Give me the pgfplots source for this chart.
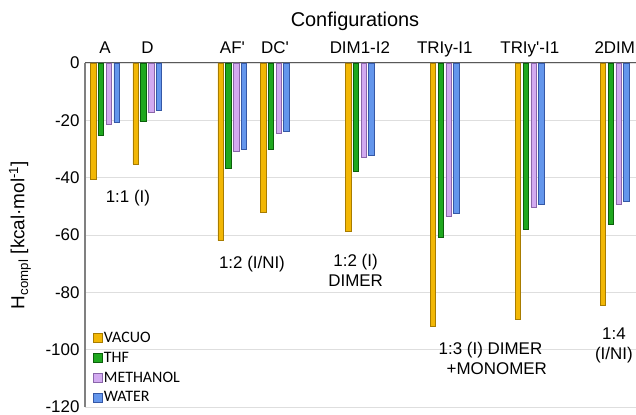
\documentclass[border=0pt]{standalone}
\usepackage{pgfplots}
\pgfplotsset{compat=1.18}
\usepackage{fontspec}
\setmainfont{Liberation Sans}
\newfontfamily\legendfont{Carlito}
\usetikzlibrary{calc}

\definecolor{vacMid}{HTML}{F2B705}
\definecolor{vacEdge}{HTML}{A87C00}
\definecolor{thfMid}{HTML}{1FA81F}
\definecolor{thfEdge}{HTML}{0B600B}
\definecolor{metMid}{HTML}{D2AAF0}
\definecolor{metEdge}{HTML}{8A66AA}
\definecolor{watMid}{HTML}{6496EC}
\definecolor{watEdge}{HTML}{3558A6}

% complexation enthalpies per configuration (kcal/mol)
\pgfplotstableread{
x  vacuo  thf    methanol water
0  -40.7  -25.2  -21.4  -20.7
1  -35.2  -20.3  -17.2  -16.6
3  -62.0  -36.9  -31.0  -30.0
4  -52.1  -30.3  -24.5  -23.8
6  -58.6  -37.9  -33.1  -32.1
8  -92.0  -60.7  -53.6  -52.4
10 -89.3  -57.9  -50.3  -49.2
12 -84.5  -56.2  -49.3  -48.2
}\enthalpies

\begin{document}
\begin{tikzpicture}
\begin{axis}[
  scale only axis,
  width=551bp, height=344bp,
  xmin=-0.47, xmax=12.5,
  ymin=-120, ymax=0,
  ybar=2.3bp, bar width=5.5bp,
  axis x line*=top, axis y line*=left,
  x axis line style={draw=black!65, line width=1bp},
  y axis line style={draw=black!50, line width=1.2bp},
  xtick={0,1,3,4,6,8,10,12},
  xticklabels={A,D,AF\textquotesingle,DC\textquotesingle,DIM1-I2,TRIy-I1,TRIy\textquotesingle-I1,2DIM},
  ytick={-120,-100,...,0},
  major tick length=0pt,
  ymajorgrids,
  grid style={black!13, line width=0.8bp},
  tick label style={font=\fontsize{17}{20}\selectfont},
  xticklabel style={anchor=base, yshift=9bp},
  yticklabel style={xshift=-2bp},
  /pgf/number format/assume math mode=true,
  ylabel={H\textsubscript{compl} [kcal·mol\textsuperscript{-1}]},
  ylabel style={font=\fontsize{19}{22}\selectfont, at={(axis description cs:-0.118,0.5)}, anchor=center},
  legend style={at={(axis description cs:0.008,0.0)}, anchor=south west,
    draw=none, fill=none, font=\legendfont\fontsize{16}{18}\selectfont,
    row sep=5bp, nodes={inner sep=1.5bp}},
  legend cell align=left,
  legend image code/.code={\draw[#1] (0bp,-4.5bp) rectangle (9bp,4.5bp);},
  clip=false,
]
\addplot[draw=vacEdge, line width=0.8bp, fill=vacMid] table[x=x, y=vacuo] {\enthalpies};
\addplot[draw=thfEdge, line width=0.8bp, fill=thfMid] table[x=x, y=thf] {\enthalpies};
\addplot[draw=metEdge, line width=0.8bp, fill=metMid] table[x=x, y=methanol] {\enthalpies};
\addplot[draw=watEdge, line width=0.8bp, fill=watMid] table[x=x, y=water] {\enthalpies};
\legend{VACUO,THF,METHANOL,WATER}

\node[anchor=base, font=\fontsize{20}{24}\selectfont, yshift=36bp] at (rel axis cs:0.49,1) {Configurations};

\begin{scope}[every node/.style={font=\fontsize{17}{20}\selectfont, align=center}]
\node at (axis cs:0.54,-47.2) {1:1 (I)};
\node at (axis cs:3.46,-70) {1:2 (I/NI)};
\node at (axis cs:5.9,-72.4) {1:2 (I)\\DIMER};
\node[align=left] at (axis cs:9.13,-103) {1:3 (I) DIMER\\\hspace*{8bp}+MONOMER};
\node at (axis cs:11.98,-98.6) {1:4\\(I/NI)};
\end{scope}
\end{axis}
\pgfresetboundingbox
\path ($(current axis.south west)+(-85bp,-8bp)$) rectangle ($(current axis.north east)+(0bp,63bp)$);
\end{tikzpicture}
\end{document}
